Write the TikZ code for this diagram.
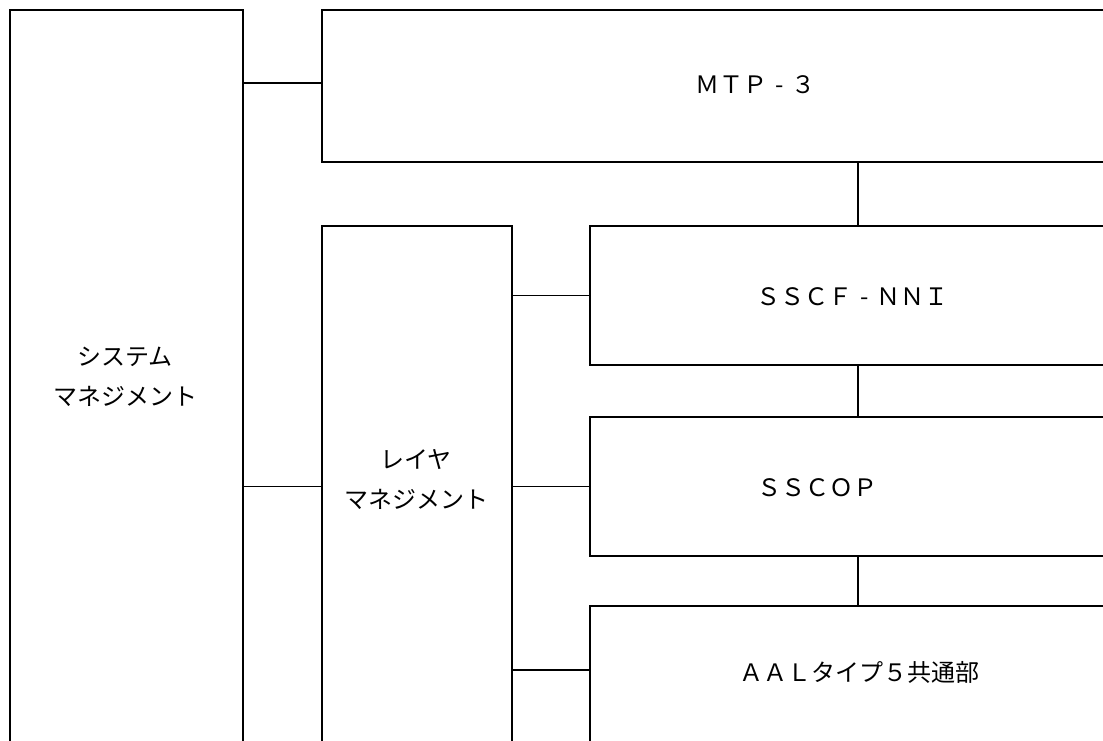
\documentclass[tikz,border=0pt]{standalone}
\usepackage{fontspec}
\setmainfont{Noto Sans CJK JP}
\newcommand{\fwdash}{\makebox[1em]{-}}
\begin{document}
\begin{tikzpicture}[x=1pt,y=-1pt,
  box/.style={draw=black,line width=1.8pt,rectangle,inner sep=0pt,anchor=north west},
  conn/.style={draw=black,line width=1.8pt},
  lbl/.style={font=\fontsize{24}{40}\selectfont,inner sep=0pt,align=center}]
\useasboundingbox (0,0) rectangle (1103,740);
\clip (0,0) rectangle (1103,740);
% boxes
\node[box,minimum width=233pt,minimum height=800pt] (sys) at (9,9) {};
\node[box,minimum width=900pt,minimum height=152pt] (mtp) at (321,9) {};
\node[box,minimum width=190pt,minimum height=600pt] (layer) at (321,225) {};
\node[box,minimum width=600pt,minimum height=139pt] (sscf) at (589,225) {};
\node[box,minimum width=600pt,minimum height=139pt] (sscop) at (589,416) {};
\node[box,minimum width=600pt,minimum height=300pt] (aal) at (589,605) {};
% labels
\node[lbl] (tsys) at (125,377) {システム\\マネジメント};
\node[lbl] (tlayer) at (416,480) {レイヤ\\マネジメント};
\node[lbl,anchor=west] (tmtp) at (695,85) {ＭＴＰ\fwdash ３};
\node[lbl,anchor=west] (tsscf) at (756,297) {ＳＳＣＦ\fwdash ＮＮＩ};
\node[lbl,anchor=west] (tsscop) at (757,488) {ＳＳＣＯＰ};
\node[lbl,anchor=west] (taal) at (739,672) {ＡＡＬタイプ５共通部};
% connectors
\coordinate (vx) at (858,0);
\coordinate (aalmid) at (589,670);
\draw[conn] ([yshift=3pt]sys.east |- mtp.west) -- ([yshift=3pt]mtp.west);
\draw[conn] (sys.east |- sscop.west) -- (layer.west |- sscop.west);
\draw[conn] (layer.east |- sscf.west) -- (sscf.west);
\draw[conn] (layer.east |- sscop.west) -- (sscop.west);
\draw[conn] (layer.east |- aalmid) -- (aalmid);
\draw[conn] (vx |- mtp.south) -- (vx |- sscf.north);
\draw[conn] (vx |- sscf.south) -- (vx |- sscop.north);
\draw[conn] (vx |- sscop.south) -- (vx |- aal.north);
\end{tikzpicture}
\end{document}
